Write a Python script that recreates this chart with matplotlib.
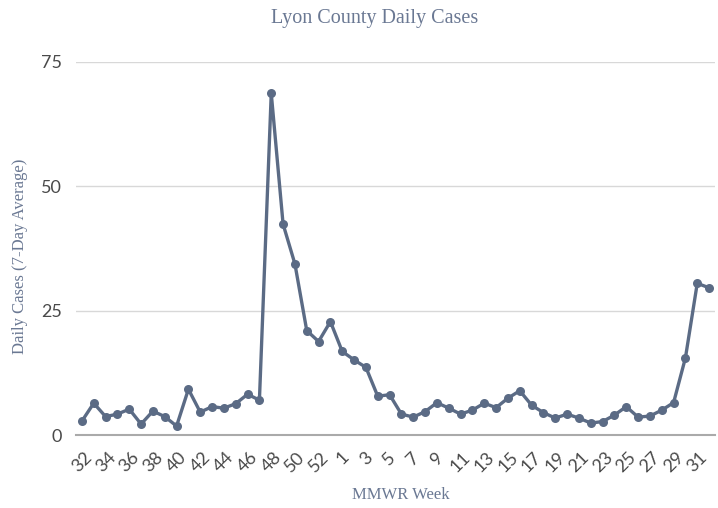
import matplotlib
matplotlib.use("Agg")
import matplotlib.pyplot as plt

weeks = list(range(32, 54)) + list(range(1, 33))
cases = [2.8, 6.4, 3.7, 4.2, 5.2, 2.2, 4.8, 3.7, 1.8, 9.2,
         4.6, 5.7, 5.4, 6.3, 8.2, 7.0, 68.7, 42.4, 34.4, 21.0,
         18.8, 22.8, 16.8, 15.1, 13.6, 7.8, 8.1, 4.2, 3.6, 4.7,
         6.5, 5.4, 4.2, 5.0, 6.4, 5.5, 7.4, 8.9, 6.0, 4.5,
         3.4, 4.2, 3.4, 2.4, 2.7, 4.0, 5.7, 3.6, 3.8, 5.0,
         6.5, 15.5, 30.5, 29.6]
y_ticks = [0, 25, 50, 75]

title_text = "Lyon County Daily Cases"
x_title = "MMWR Week"
y_title = "Daily Cases (7-Day Average)"

line_color = "#5b6b85"
text_color = "#6a7893"
serif = ["Liberation Serif", "DejaVu Serif"]
sans = ["Lato", "DejaVu Sans"]

fig = plt.figure(figsize=(7.18, 5.08), dpi=100)
ax = fig.add_axes([76/718, 1-435/508, (715-76)/718, (435-62)/508])

x = list(range(len(weeks)))
ax.plot(x, cases, color=line_color, lw=2.4, marker="o", ms=6.5,
        markeredgewidth=0, zorder=3)

ax.set_xlim(-0.5, len(weeks) - 0.5)
ax.set_ylim(0, 75)
ax.set_yticks(y_ticks)
ax.set_yticklabels([str(v) for v in y_ticks], fontfamily=sans,
                   fontweight="normal", fontsize=13, color="#4a4a4a")
ax.yaxis.grid(True, color="#d8d8d8", lw=1)
ax.set_axisbelow(True)

ax.set_xticks(x[::2])
ax.set_xticklabels([str(w) for w in weeks[::2]], rotation=45, ha="center",
                   va="top", fontfamily=sans, fontweight="normal",
                   fontsize=13, color="#4a4a4a")
ax.tick_params(axis="both", length=0)
ax.tick_params(axis="x", pad=10)
ax.tick_params(axis="y", pad=10)

for s in ["top", "right", "left"]:
    ax.spines[s].set_visible(False)
ax.spines["bottom"].set_color("#aaaaaa")
ax.spines["bottom"].set_linewidth(1.5)

fig.text(375/718, 1-19/508, title_text, ha="center", va="center",
         fontfamily=serif, fontsize=14.5, color=text_color)
fig.text(401/718, 1-495/508, x_title, ha="center", va="center",
         fontfamily=serif, fontsize=12, color=text_color)
fig.text(20/718, 1-256/508, y_title, ha="center", va="center",
         rotation=90, fontfamily=serif, fontsize=12, color=text_color)

fig.savefig("out.png", dpi=100, facecolor="white")
